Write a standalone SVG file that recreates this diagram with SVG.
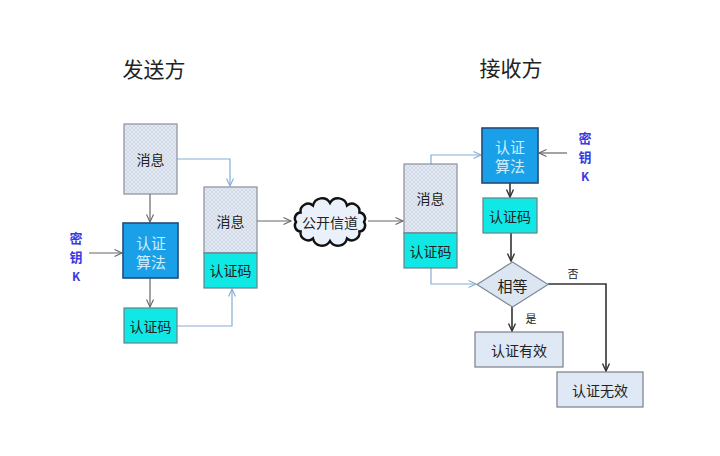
<svg xmlns="http://www.w3.org/2000/svg" width="720" height="456" viewBox="0 0 720 456">
<defs>
<pattern id="hatch" width="4" height="4" patternUnits="userSpaceOnUse">
<rect width="4" height="4" fill="#e4eaf4"/>
<path d="M0,0 L4,4 M4,0 L0,4" stroke="#c0cbdd" stroke-width="0.5"/>
</pattern>
<marker id="ad" markerWidth="10" markerHeight="10" refX="8" refY="4" orient="auto" markerUnits="userSpaceOnUse">
<path d="M0.5,0.5 L8,4 L0.5,7.5" fill="none" stroke="#333" stroke-width="1.4"/>
</marker>
<marker id="ag" markerWidth="10" markerHeight="10" refX="8" refY="4" orient="auto" markerUnits="userSpaceOnUse">
<path d="M0.5,0.5 L8,4 L0.5,7.5" fill="none" stroke="#666" stroke-width="1.1"/>
</marker>
<marker id="al" markerWidth="10" markerHeight="10" refX="8" refY="4" orient="auto" markerUnits="userSpaceOnUse">
<path d="M0.5,0.5 L8,4 L0.5,7.5" fill="none" stroke="#86acd6" stroke-width="1.1"/>
</marker>
</defs>
<style>
text{font-family:"Noto Sans CJK SC","Liberation Sans",sans-serif;text-anchor:middle;dominant-baseline:central;fill:#222}
.title{font-size:21px}
.t{font-size:14px}
.msg{fill:url(#hatch);stroke:#8a8f99;stroke-width:1.2}
.mac{fill:#10e8e6;stroke:#6b7f8c;stroke-width:1.2}
.alg{fill:#1aa0e8;stroke:#234a78;stroke-width:1.6}
.algt{font-size:15px;fill:#cdeeff}
.key{font-size:13px;fill:#3a3ae0;font-weight:bold}
.res{fill:#dfe8f5;stroke:#7a7f88;stroke-width:1.2}
.dk{fill:none;stroke:#333;stroke-width:1.6}
.gr{fill:none;stroke:#666;stroke-width:1.2}
.lb{fill:none;stroke:#86acd6;stroke-width:1.2}
.small{font-size:11px}
</style>
<rect width="720" height="456" fill="#fff"/>
<text class="title" x="154" y="68">发送方</text>
<text class="title" x="511" y="67">接收方</text>

<g id="connectors">
<line class="gr" x1="150" y1="194" x2="150" y2="222" marker-end="url(#ag)"/>
<line class="gr" x1="89" y1="253" x2="122" y2="253" marker-end="url(#ag)"/>
<line class="gr" x1="150" y1="278" x2="150" y2="307" marker-end="url(#ag)"/>
<polyline class="lb" points="177,159 230,159 230,186" marker-end="url(#al)"/>
<polyline class="lb" points="177,326 232,326 232,289" marker-end="url(#al)"/>
<line class="gr" x1="257" y1="221" x2="291" y2="221" marker-end="url(#ag)"/>
<line class="gr" x1="368" y1="221" x2="403" y2="221" marker-end="url(#ag)"/>
<polyline class="lb" points="431,164 431,155 481,155" marker-end="url(#al)"/>
<line class="gr" x1="567" y1="153" x2="539" y2="153" marker-end="url(#ag)"/>
<line class="dk" x1="510" y1="183" x2="510" y2="197" marker-end="url(#ad)"/>
<line class="dk" x1="511" y1="233" x2="511" y2="261" marker-end="url(#ad)"/>
<polyline class="lb" points="431,268 431,284 476,284" marker-end="url(#al)"/>
<polyline class="dk" points="548,284 606,284 606,371" marker-end="url(#ad)"/>
<line class="dk" x1="512" y1="307" x2="512" y2="331" marker-end="url(#ad)"/>
<text class="small" x="573" y="273">否</text>
<text class="small" x="531" y="318">是</text>
</g>

<g id="s_msg">
<rect class="msg" x="124" y="124" width="53" height="70"/>
<text class="t" x="150.5" y="159">消息</text>
</g>
<g id="s_alg">
<rect class="alg" x="123" y="223" width="55" height="55"/>
<text class="algt" x="151" y="242">认证</text>
<text class="algt" x="151" y="261">算法</text>
</g>
<g id="s_key">
<text class="key" x="76" y="237">密</text>
<text class="key" x="76" y="256">钥</text>
<text class="key" x="76" y="275" style="font-size:12px">K</text>
</g>
<g id="s_mac">
<rect class="mac" x="124" y="308" width="53" height="35"/>
<text class="t" x="150.5" y="325.5">认证码</text>
</g>
<g id="s_combined">
<rect class="msg" x="204" y="187" width="53" height="66"/>
<rect class="mac" x="204" y="253" width="53" height="35"/>
<text class="t" x="230.5" y="221">消息</text>
<text class="t" x="230.5" y="270">认证码</text>
</g>
<g id="channel">
<path d="M364,222 A6,6 0 0 1 359.4,231.5 A7.6,7.6 0 0 1 347,238.5 A9.2,9.2 0 0 1 330,241 A9.2,9.2 0 0 1 313,238.5 A7.6,7.6 0 0 1 300.6,231.5 A6,6 0 0 1 296,222 A6,6 0 0 1 300.6,212.5 A7.6,7.6 0 0 1 313,205.5 A9.2,9.2 0 0 1 330,203 A9.2,9.2 0 0 1 347,205.5 A7.6,7.6 0 0 1 359.4,212.5 A6,6 0 0 1 364,222 Z" fill="#eaf1fa" stroke="#111" stroke-width="2.4"/>
<text x="330" y="222" style="font-size:14px">公开信道</text>
</g>
<g id="r_combined">
<rect class="msg" x="404" y="164" width="53" height="69"/>
<rect class="mac" x="404" y="233" width="53" height="35"/>
<text class="t" x="430.5" y="198">消息</text>
<text class="t" x="430.5" y="250.5">认证码</text>
</g>
<g id="r_alg">
<rect class="alg" x="482" y="128" width="56" height="55"/>
<text class="algt" x="510" y="146">认证</text>
<text class="algt" x="510" y="165">算法</text>
</g>
<g id="r_key">
<text class="key" x="585" y="137">密</text>
<text class="key" x="585" y="156">钥</text>
<text class="key" x="585" y="175" style="font-size:12px">K</text>
</g>
<g id="r_mac">
<rect class="mac" x="483" y="198" width="54" height="35"/>
<text class="t" x="510" y="215.5">认证码</text>
</g>
<g id="compare">
<polygon points="512.5,262 548,284.5 512.5,307 477,284.5" fill="#dce6f2" stroke="#7f8a99" stroke-width="1.2"/>
<text x="512.5" y="285" style="font-size:15px">相等</text>
</g>
<g id="valid">
<rect class="res" x="475" y="332" width="88" height="35"/>
<text class="t" x="519" y="349.5">认证有效</text>
</g>
<g id="invalid">
<rect class="res" x="557" y="372" width="86" height="35"/>
<text class="t" x="600" y="389.5">认证无效</text>
</g>
</svg>
